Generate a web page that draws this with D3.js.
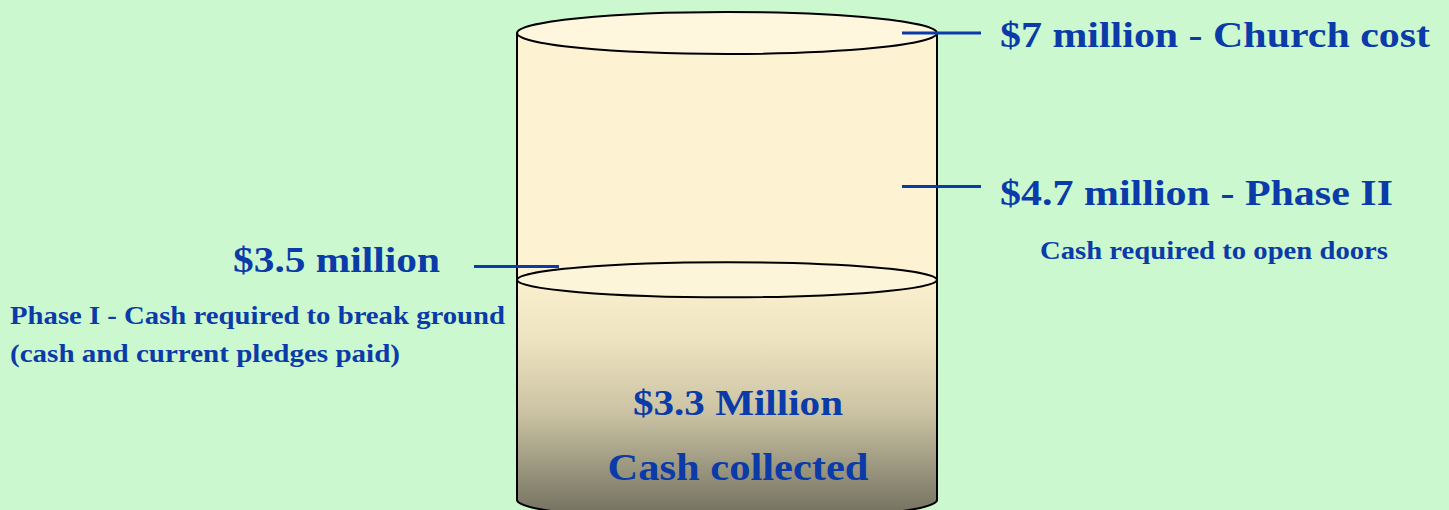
<!DOCTYPE html>
<html>
<head>
<meta charset="utf-8">
<script src="https://cdn.jsdelivr.net/npm/d3@7"></script>
<style>
  html, body { margin: 0; padding: 0; background: #ccf8cf; }
  svg { display: block; }
  text { font-family: "Liberation Serif", "DejaVu Serif", serif; font-weight: bold; fill: #0a3ba8; }
</style>
</head>
<body>
<svg id="chart"></svg>
<script>
// values in million $
var totalCost = 7;
var collected = 3.3;
var markerValues = [7, 4.7, 3.5];
var markerLabels = ["$7 million - Church cost", "$4.7 million - Phase II", "$3.5 million"];
var markerNotes = [[], ["Cash required to open doors"], ["Phase I - Cash required to break ground", "(cash and current pledges paid)"]];
var collectedLabels = ["$3.3 Million", "Cash collected"];

var width = 1449,
    height = 510;

// cylinder geometry
var cx = 727, rx = 210;
var ryTop = 21, ryFill = 17.5, ryBottom = 20;

var y = d3.scaleLinear()
    .domain([0, totalCost])
    .range([500, 33]);

var svg = d3.select("#chart")
    .attr("width", width)
    .attr("height", height);

svg.append("rect")
    .attr("width", width)
    .attr("height", height)
    .attr("fill", "#ccf8cf");

var defs = svg.append("defs");
var grad = defs.append("linearGradient")
    .attr("id", "cashGrad")
    .attr("x1", 0).attr("y1", 0).attr("x2", 0).attr("y2", 1);
grad.append("stop").attr("offset", "0%").attr("stop-color", "#fbf0cf");
grad.append("stop").attr("offset", "25%").attr("stop-color", "#eee3c0");
grad.append("stop").attr("offset", "55%").attr("stop-color", "#cbc3a3");
grad.append("stop").attr("offset", "78%").attr("stop-color", "#9b977f");
grad.append("stop").attr("offset", "100%").attr("stop-color", "#6f6d5c");

var left = cx - rx, right = cx + rx;

// empty upper part
svg.append("rect")
    .attr("x", left)
    .attr("y", y(totalCost))
    .attr("width", rx * 2)
    .attr("height", y(collected) - y(totalCost))
    .attr("fill", "#fdf3d3");

// collected part
svg.append("path")
    .attr("d", "M" + left + "," + y(collected) +
        " L" + left + "," + y(0) +
        " A" + rx + "," + ryBottom + " 0 0 0 " + right + "," + y(0) +
        " L" + right + "," + y(collected) + " Z")
    .attr("fill", "url(#cashGrad)");

// outline: sides and bottom
svg.append("path")
    .attr("d", "M" + left + "," + y(totalCost) +
        " L" + left + "," + y(0) +
        " A" + rx + "," + ryBottom + " 0 0 0 " + right + "," + y(0) +
        " L" + right + "," + y(totalCost))
    .attr("fill", "none")
    .attr("stroke", "#000")
    .attr("stroke-width", 2);

// cash level ellipse
svg.append("ellipse")
    .attr("cx", cx)
    .attr("cy", y(collected))
    .attr("rx", rx)
    .attr("ry", ryFill)
    .attr("fill", "#fdf5d9")
    .attr("stroke", "#000")
    .attr("stroke-width", 2);

// top ellipse
svg.append("ellipse")
    .attr("cx", cx)
    .attr("cy", y(totalCost))
    .attr("rx", rx)
    .attr("ry", ryTop)
    .attr("fill", "#fef6dd")
    .attr("stroke", "#000")
    .attr("stroke-width", 2);

// marker layout (right side for first two, left side for last)
var markerLayout = [
    {x1: 902, x2: 981, tx: 1000, len: 430, dy: 14, noteX: 1040, noteDy: [], noteLen: []},
    {x1: 902, x2: 981, tx: 1000, len: 393, dy: 19, noteX: 1040, noteDy: [73], noteLen: [348]},
    {x1: 474, x2: 559, tx: 233, len: 207, dy: 5, noteX: 10, noteDy: [57, 95], noteLen: [495, 390]}
];

markerValues.forEach(function(v, i) {
    var lay = markerLayout[i];
    var my = y(v);
    svg.append("line")
        .attr("x1", lay.x1)
        .attr("x2", lay.x2)
        .attr("y1", my)
        .attr("y2", my)
        .attr("stroke", "#0a3ba8")
        .attr("stroke-width", 3);
    svg.append("text")
        .attr("x", lay.tx)
        .attr("y", my + lay.dy)
        .attr("font-size", 35)
        .attr("textLength", lay.len)
        .attr("lengthAdjust", "spacingAndGlyphs")
        .text(markerLabels[i]);
    markerNotes[i].forEach(function(note, j) {
        svg.append("text")
            .attr("x", lay.noteX)
            .attr("y", my + lay.noteDy[j])
            .attr("font-size", 25)
            .attr("textLength", lay.noteLen[j])
            .attr("lengthAdjust", "spacingAndGlyphs")
            .text(note);
    });
});

// labels inside collected part
var collectedLayout = [{y: 415, size: 35, len: 210}, {y: 480, size: 38, len: 261}];
collectedLabels.forEach(function(t, i) {
    svg.append("text")
        .attr("x", cx + 11)
        .attr("y", collectedLayout[i].y)
        .attr("text-anchor", "middle")
        .attr("font-size", collectedLayout[i].size)
        .attr("textLength", collectedLayout[i].len)
        .attr("lengthAdjust", "spacingAndGlyphs")
        .text(t);
});
</script>
</body>
</html>
